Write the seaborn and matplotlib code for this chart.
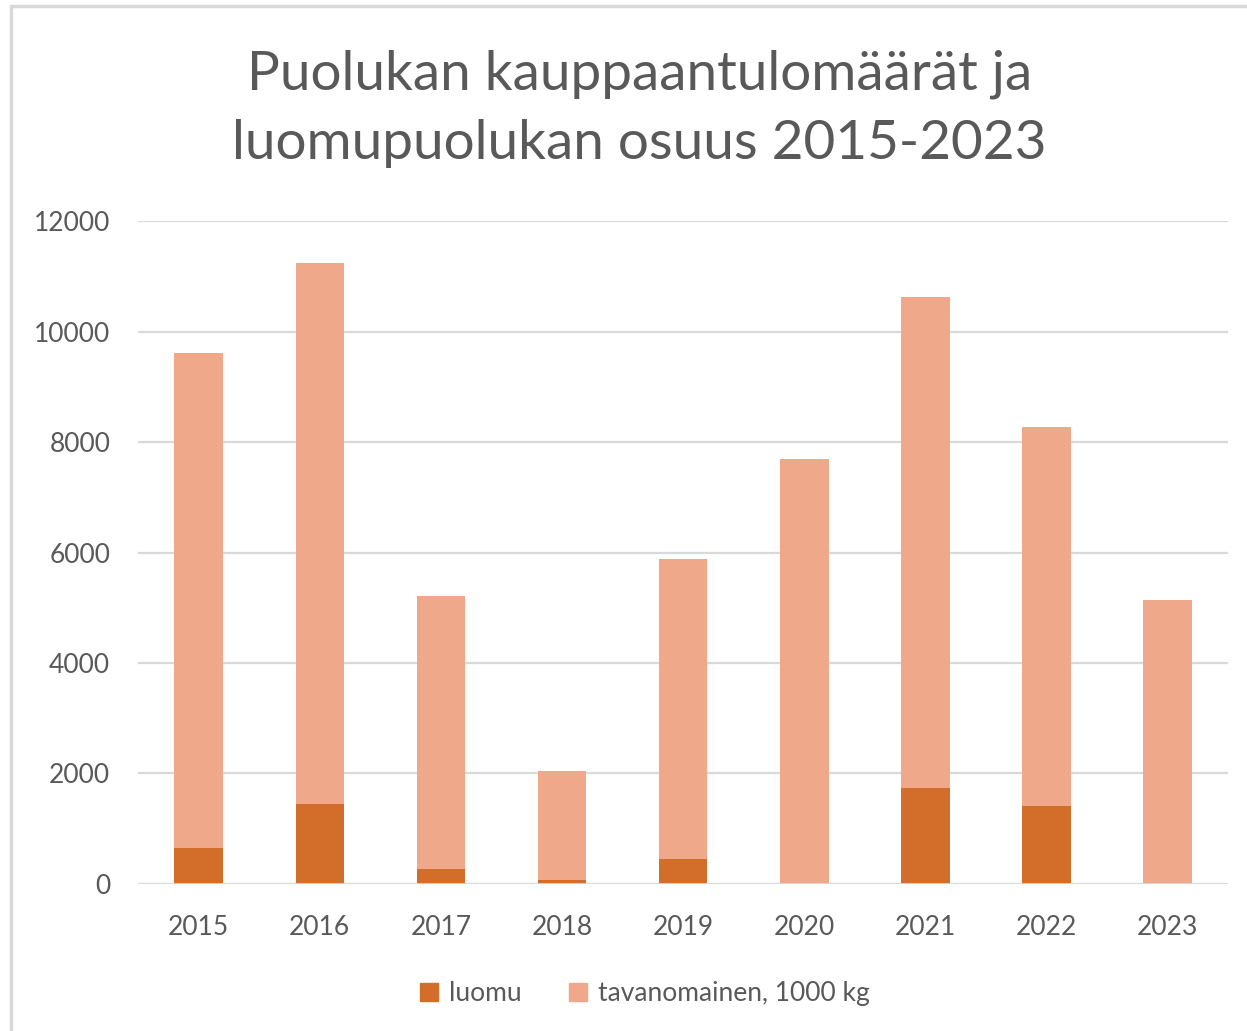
import matplotlib
matplotlib.use("Agg")
import matplotlib.pyplot as plt
from matplotlib.patches import Patch, Rectangle
import seaborn as sns
import pandas as pd

years = ["2015", "2016", "2017", "2018", "2019", "2020", "2021", "2022", "2023"]
luomu = [652, 1448, 272, 78, 458, 0, 1738, 1417, 0]
tavanomainen = [8960, 9792, 4941, 1972, 5424, 7692, 8886, 6854, 5140]
title = "Puolukan kauppaantulomäärät ja\nluomupuolukan osuus 2015-2023"
labels = ["luomu", "tavanomainen, 1000 kg"]

c_luomu = "#D26E2A"
c_tav = "#F0A88A"
txt = "#595959"

sns.set_theme(style="white")
plt.rcParams["font.family"] = ["Lato", "DejaVu Sans"]

df = pd.DataFrame({"year": years, "luomu": luomu, "tav": tavanomainen})
df["total"] = df["luomu"] + df["tav"]

fig = plt.figure(figsize=(12.47, 10.31), dpi=100)
ax = fig.add_axes([0.1107, 0.1426, 0.8743, 0.643])

sns.barplot(data=df, x="year", y="total", color=c_tav, width=0.4, ax=ax,
            saturation=1, edgecolor="none", zorder=3)
sns.barplot(data=df, x="year", y="luomu", color=c_luomu, width=0.4, ax=ax,
            saturation=1, edgecolor="none", zorder=4)

ax.set_xlim(-0.5, 8.5)
ax.set_ylim(0, 12000)
ax.set_yticks(range(0, 12001, 2000))
ax.yaxis.grid(True, color="#D9D9D9", linewidth=1.6, zorder=0)
ax.set_axisbelow(True)
for s in ax.spines.values():
    s.set_visible(False)
ax.axhline(0, color="#D9D9D9", linewidth=2, zorder=5)
ax.set_xlabel("")
ax.set_ylabel("")
ax.tick_params(axis="both", length=0, labelsize=19, colors=txt)
ax.tick_params(axis="y", pad=20)
ax.tick_params(axis="x", pad=22)

fig.text(0.513, 0.895, title, ha="center", va="center", fontsize=39.5,
         color=txt, linespacing=1.5)

handles = [Patch(color=c_luomu), Patch(color=c_tav)]
fig.legend(handles, labels, loc="center", bbox_to_anchor=(0.517, 0.036), ncol=2,
           frameon=False, fontsize=19, labelcolor=txt, handlelength=0.7,
           handleheight=0.7, handletextpad=0.4, columnspacing=1.8)

fig.patches.append(Rectangle((0.009, -0.01), 1.2, 1.004, transform=fig.transFigure,
                             fill=False, edgecolor="#D9D9D9", linewidth=2.5))

fig.savefig("out.png", dpi=100, facecolor="white")
